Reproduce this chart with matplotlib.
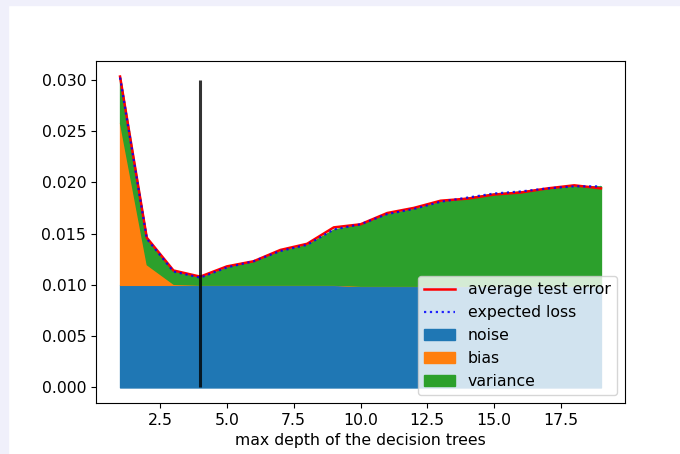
import matplotlib
matplotlib.use("Agg")
import matplotlib.pyplot as plt
import numpy as np
from matplotlib.patches import Rectangle

depth = [1, 2, 3, 4, 5, 6, 7, 8, 9, 10, 11, 12, 13, 14, 15, 16, 17, 18, 19]
noise = [0.0100, 0.0100, 0.0100, 0.0100, 0.0100, 0.0100, 0.0100, 0.0100, 0.0100,
         0.0099, 0.0099, 0.0099, 0.0099, 0.0099, 0.0099, 0.0099, 0.0099, 0.0099, 0.0099]
bias = [0.0158, 0.0020, 0.0001, 0.00002, 0.00002, 0.00002, 0.00002, 0.00002, 0.00002,
        0.00002, 0.00002, 0.00002, 0.00002, 0.00002, 0.00002, 0.00002, 0.00002, 0.00002, 0.00002]
variance = [0.0044, 0.0025, 0.0012, 0.00068, 0.00168, 0.00228, 0.00328, 0.00388, 0.00538,
            0.00598, 0.00698, 0.00748, 0.00818, 0.00858, 0.00898, 0.00918, 0.00948, 0.00968, 0.00968]
test_error = [0.0303, 0.0146, 0.0114, 0.0108, 0.0118, 0.0123, 0.0134, 0.0140, 0.0156,
              0.0159, 0.0170, 0.0175, 0.0182, 0.0184, 0.0188, 0.0190, 0.0194, 0.0197, 0.0194]
best_depth = 4

x = np.array(depth)
n = np.array(noise)
b = np.array(bias)
v = np.array(variance)
expected = n + b + v

plt.rcParams['font.size'] = 11.3
fig = plt.figure(figsize=(6.8, 4.54), dpi=100)
fig.patch.set_facecolor('white')
# lavender page strips
fig.add_artist(Rectangle((0, 0), 8/680, 1, transform=fig.transFigure, color='#f0f0fb', zorder=-10))
fig.add_artist(Rectangle((0, 1 - 5/454), 1, 5/454, transform=fig.transFigure, color='#f0f0fb', zorder=-10))

ax = fig.add_axes([96/680, (454-403)/454, (625-96)/680, (403-61)/454])

ax.plot(x, test_error, color='r', linestyle='-', linewidth=1.8, label='average test error')
ax.plot(x, expected, color='b', linestyle=':', linewidth=1.6, alpha=0.85, label='expected loss')
ax.fill_between(x, 0, n, color='#1f77b4', label='noise')
ax.fill_between(x, n, n + b, color='#ff7f0e', label='bias')
ax.fill_between(x, n + b, n + b + v, color='#2ca02c', label='variance')
ax.vlines(best_depth, 0, 0.03, color='k', alpha=0.8, linewidth=2.2)

ax.set_xlabel('max depth of the decision trees')
ax.legend(loc='lower right')

fig.savefig('out.png', dpi=100)
